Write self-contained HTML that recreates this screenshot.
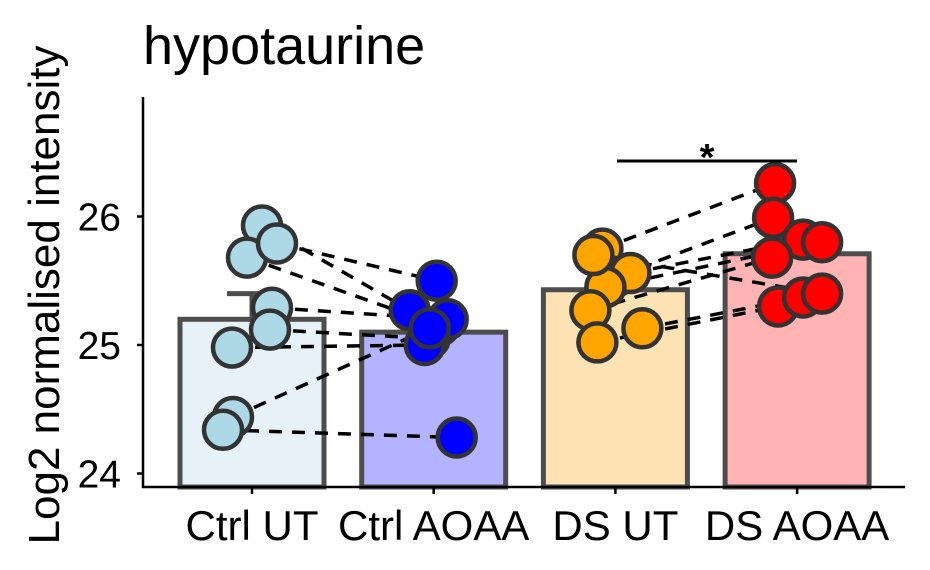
<!DOCTYPE html>
<html><head><meta charset="utf-8"><style>body{margin:0;background:#fff}svg{display:block;font-family:"Liberation Sans",sans-serif}</style></head>
<body>
<svg id="chart" width="930" height="570" viewBox="0 0 930 570" xmlns="http://www.w3.org/2000/svg">
<text x="143" y="64" style="font-size:54px" fill="#000">hypotaurine</text>
<text transform="translate(59,295) rotate(-90)" text-anchor="middle" style="font-size:44px" fill="#000">Log2 normalised intensity</text>
<g id="bars"></g><g id="lines"></g><g id="points"></g><g id="axes"></g>
</svg>
<script>
const categories = ["Ctrl UT","Ctrl AOAA","DS UT","DS AOAA"];
const barMeans = [25.2, 25.1, 25.43, 25.71];
const barErr = [0.2, 0.12, 0.1, 0.12];
const fills = ["#e6f2f8","#b3b3ff","#fde3b3","#ffb3b3"];
const ptColors = ["#add8e6","#0000ff","#ffa500","#ff0000"];
const ctrlUT = [25.93, 25.68, 25.79, 25.29, 25.12, 24.98, 24.44, 24.34];
const ctrlAOAA = [25.27, 25.15, 25.5, 25.2, 25.05, 25.0, 25.13, 24.28];
const dsUT = [25.75, 25.53, 25.56, 25.45, 25.27, 25.02, 25.13, 25.7];
const dsAOAA = [26.26, 25.99, 25.82, 25.8, 25.68, 25.3, 25.37, 25.4];
const jitter = [[10,-5,25,20,18,-20,-19,-29],[-24,6,3,14,-4,-9,-4,23],[-13,0,15,-10,-25,-18,27,-22],[-22,-24,6,25,-25,-19,6,25]];
const yTicks = [24,25,26];
const groups=[ctrlUT,ctrlAOAA,dsUT,dsAOAA];
const NS="http://www.w3.org/2000/svg";
const xC=i=>252+i*181.7;
const yS=v=>345-(v-25)*128.5;
function mk(t,a,p){const e=document.createElementNS(NS,t);for(const k in a)e.setAttribute(k,a[k]);p.appendChild(e);return e;}
const gb=document.getElementById('bars'),gl=document.getElementById('lines'),gp=document.getElementById('points'),ga=document.getElementById('axes');
categories.forEach((c,i)=>{
 const y=yS(barMeans[i]);
 const b=mk('rect',{x:xC(i)-72,y:y,width:144,height:487-y,fill:fills[i],stroke:'#4d4d4d','stroke-width':5},gb);
 
 
 const e=mk('path',{d:`M${xC(i)-25},${yS(barMeans[i]+barErr[i])}H${xC(i)+25}M${xC(i)},${yS(barMeans[i]+barErr[i])}V${y}`,stroke:'#4d4d4d','stroke-width':5,fill:'none'},gb);
 
 
});
[[0,1],[2,3]].forEach(([a,b])=>{
 groups[a].forEach((v,k)=>{
  const l=mk('line',{x1:xC(a)+jitter[a][k],y1:yS(v),x2:xC(b)+jitter[b][k],y2:yS(groups[b][k]),stroke:'#000','stroke-width':3.5,'stroke-dasharray':'13,10'},gl);
  
  
 });
});
groups.forEach((g,i)=>g.forEach((v,k)=>{
 const p=mk('circle',{cx:xC(i)+jitter[i][k],cy:yS(v),r:19,fill:ptColors[i],stroke:'#333','stroke-width':4.5},gp);
 
 
}));
let ax=mk('path',{d:'M143,97V487H905',stroke:'#000','stroke-width':2.5,fill:'none'},ga);


yTicks.forEach(t=>{
 mk('line',{x1:137,x2:143,y1:yS(t),y2:yS(t),stroke:'#000','stroke-width':2.5},ga);
 const tx=mk('text',{x:121,y:yS(t)+14,'text-anchor':'end',style:'font-size:39px',fill:'#000'},ga);
 tx.textContent=t;
 
 
});
categories.forEach((c,i)=>{
 mk('line',{x1:xC(i),x2:xC(i),y1:487,y2:494,stroke:'#000','stroke-width':2.5},ga);
 const tx=mk('text',{x:xC(i),y:540,'text-anchor':'middle',style:'font-size:42px',fill:'#000'},ga);
 tx.textContent=c;
 
 
});
const sb=mk('line',{x1:617,x2:797,y1:161,y2:161,stroke:'#000','stroke-width':3},ga);


const st=mk('text',{x:707,y:170,'text-anchor':'middle',style:'font-size:38px;font-weight:bold',fill:'#000'},ga);
st.textContent='*';


</script>
</body></html>
